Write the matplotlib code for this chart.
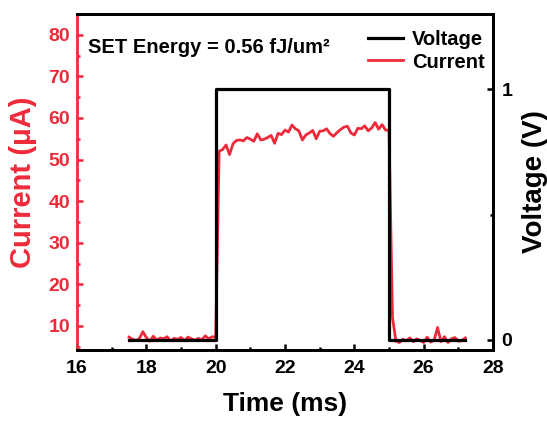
import numpy as np
import matplotlib
matplotlib.use("Agg")
import matplotlib.pyplot as plt
from matplotlib.ticker import MultipleLocator, AutoMinorLocator

# current trace, 0.1 ms sampling starting at 17.5 ms
t_start = 17.5
t_step = 0.1
current = [
    # baseline 17.5 - 19.9
    7.3, 6.8, 6.5, 7.0, 8.6, 7.2, 6.3, 7.5, 6.6, 7.1,
    6.9, 7.4, 6.4, 7.0, 6.8, 7.2, 6.5, 7.3, 6.9, 6.6,
    7.0, 6.7, 7.6, 6.9, 7.4,
    7.2,
    # SET pulse 20.1 - 25.0
    52.0, 52.4, 53.5, 51.2, 53.8, 54.6, 54.7, 54.5, 55.3, 54.9,
    54.4, 56.2, 54.7, 54.9, 55.3, 55.8, 53.9, 56.3, 56.0, 57.1,
    56.6, 58.3, 57.4, 56.9, 54.7, 55.9, 56.4, 57.0, 55.0, 56.8,
    56.9, 57.4, 56.2, 55.6, 56.5, 57.2, 57.8, 58.0, 56.4, 55.9,
    57.5, 57.4, 58.1, 56.9, 57.6, 58.9, 57.3, 58.4, 57.1, 57.0,
    # falling edge
    12.0, 6.3,
    # baseline 25.3 - 27.2
    6.0, 6.8, 6.4, 7.1, 6.2, 6.9, 6.5, 6.0, 7.3, 6.1,
    6.5, 9.6, 6.2, 7.4, 6.0, 6.9, 7.2, 6.3, 6.5, 7.1,
]
time_i = np.round(t_start + t_step * np.arange(len(current)), 1)

# voltage pulse
time_v = [17.5, 20.0, 20.0, 25.0, 25.0, 27.2]
voltage = [0, 0, 1, 1, 0, 0]

red = "#EE2A3A"
plt.rcParams["font.family"] = ["Liberation Sans", "DejaVu Sans"]
plt.rcParams["font.weight"] = "bold"

fig = plt.figure(figsize=(5.47, 4.24), dpi=100)
ax = fig.add_axes([0.1408, 0.1745, 0.7605, 0.7925])
ax2 = ax.twinx()

lc, = ax.plot(time_i, current, color=red, lw=2.0, label="Current")
lv, = ax2.plot(time_v, voltage, color="black", lw=2.3, label="Voltage")

ax.set_xlim(16, 28)
ax.set_ylim(4.2, 85)
ax2.set_ylim(-0.04, 1.30)

ax.xaxis.set_major_locator(MultipleLocator(2))
ax.xaxis.set_minor_locator(AutoMinorLocator(2))
ax.set_yticks([10, 20, 30, 40, 50, 60, 70, 80])
ax.yaxis.set_minor_locator(AutoMinorLocator(2))
ax2.set_yticks([0, 1])
ax2.yaxis.set_minor_locator(MultipleLocator(0.5))

for s in ["top", "bottom", "right"]:
    ax2.spines[s].set_linewidth(2.0)
    ax.spines[s].set_linewidth(2.0)
ax.spines["left"].set_linewidth(2.0)
ax.spines["left"].set_color(red)
ax2.spines["left"].set_visible(False)

ax.tick_params(axis="x", which="both", direction="in", width=1.8, labelsize=14, pad=7)
ax.tick_params(axis="x", which="major", length=4.5)
ax.tick_params(axis="x", which="minor", length=2.5)
ax.tick_params(axis="y", which="both", direction="in", width=1.8, colors=red,
               labelsize=14, pad=5)
ax.tick_params(axis="y", which="major", length=4.5)
ax.tick_params(axis="y", which="minor", length=2.5)
ax2.tick_params(axis="y", which="both", direction="in", width=1.8, labelsize=14, pad=6)
ax2.tick_params(axis="y", which="major", length=4.5)
ax2.tick_params(axis="y", which="minor", length=2.5)

ax.set_xlabel("Time (ms)", fontsize=19, fontweight="bold", labelpad=11)
ax.set_ylabel("Current (\u03bcA)", fontsize=21, fontweight="bold", color=red, labelpad=8)
ax2.set_ylabel("Voltage (V)", fontsize=20, fontweight="bold", labelpad=7)

ax.text(0.026, 0.899, "SET Energy = 0.56 fJ/um\u00b2", transform=ax.transAxes,
        fontsize=14.5, fontweight="bold", va="center", ha="left")

leg = ax2.legend(handles=[lv, lc], loc="upper right", bbox_to_anchor=(1.002, 0.979),
                 frameon=False, fontsize=14.5,
                 handlelength=1.75, handletextpad=0.45, labelspacing=0.17,
                 borderaxespad=0.0, borderpad=0.45)
for txt in leg.get_texts():
    txt.set_fontweight("bold")

fig.savefig("out.png", dpi=100)
